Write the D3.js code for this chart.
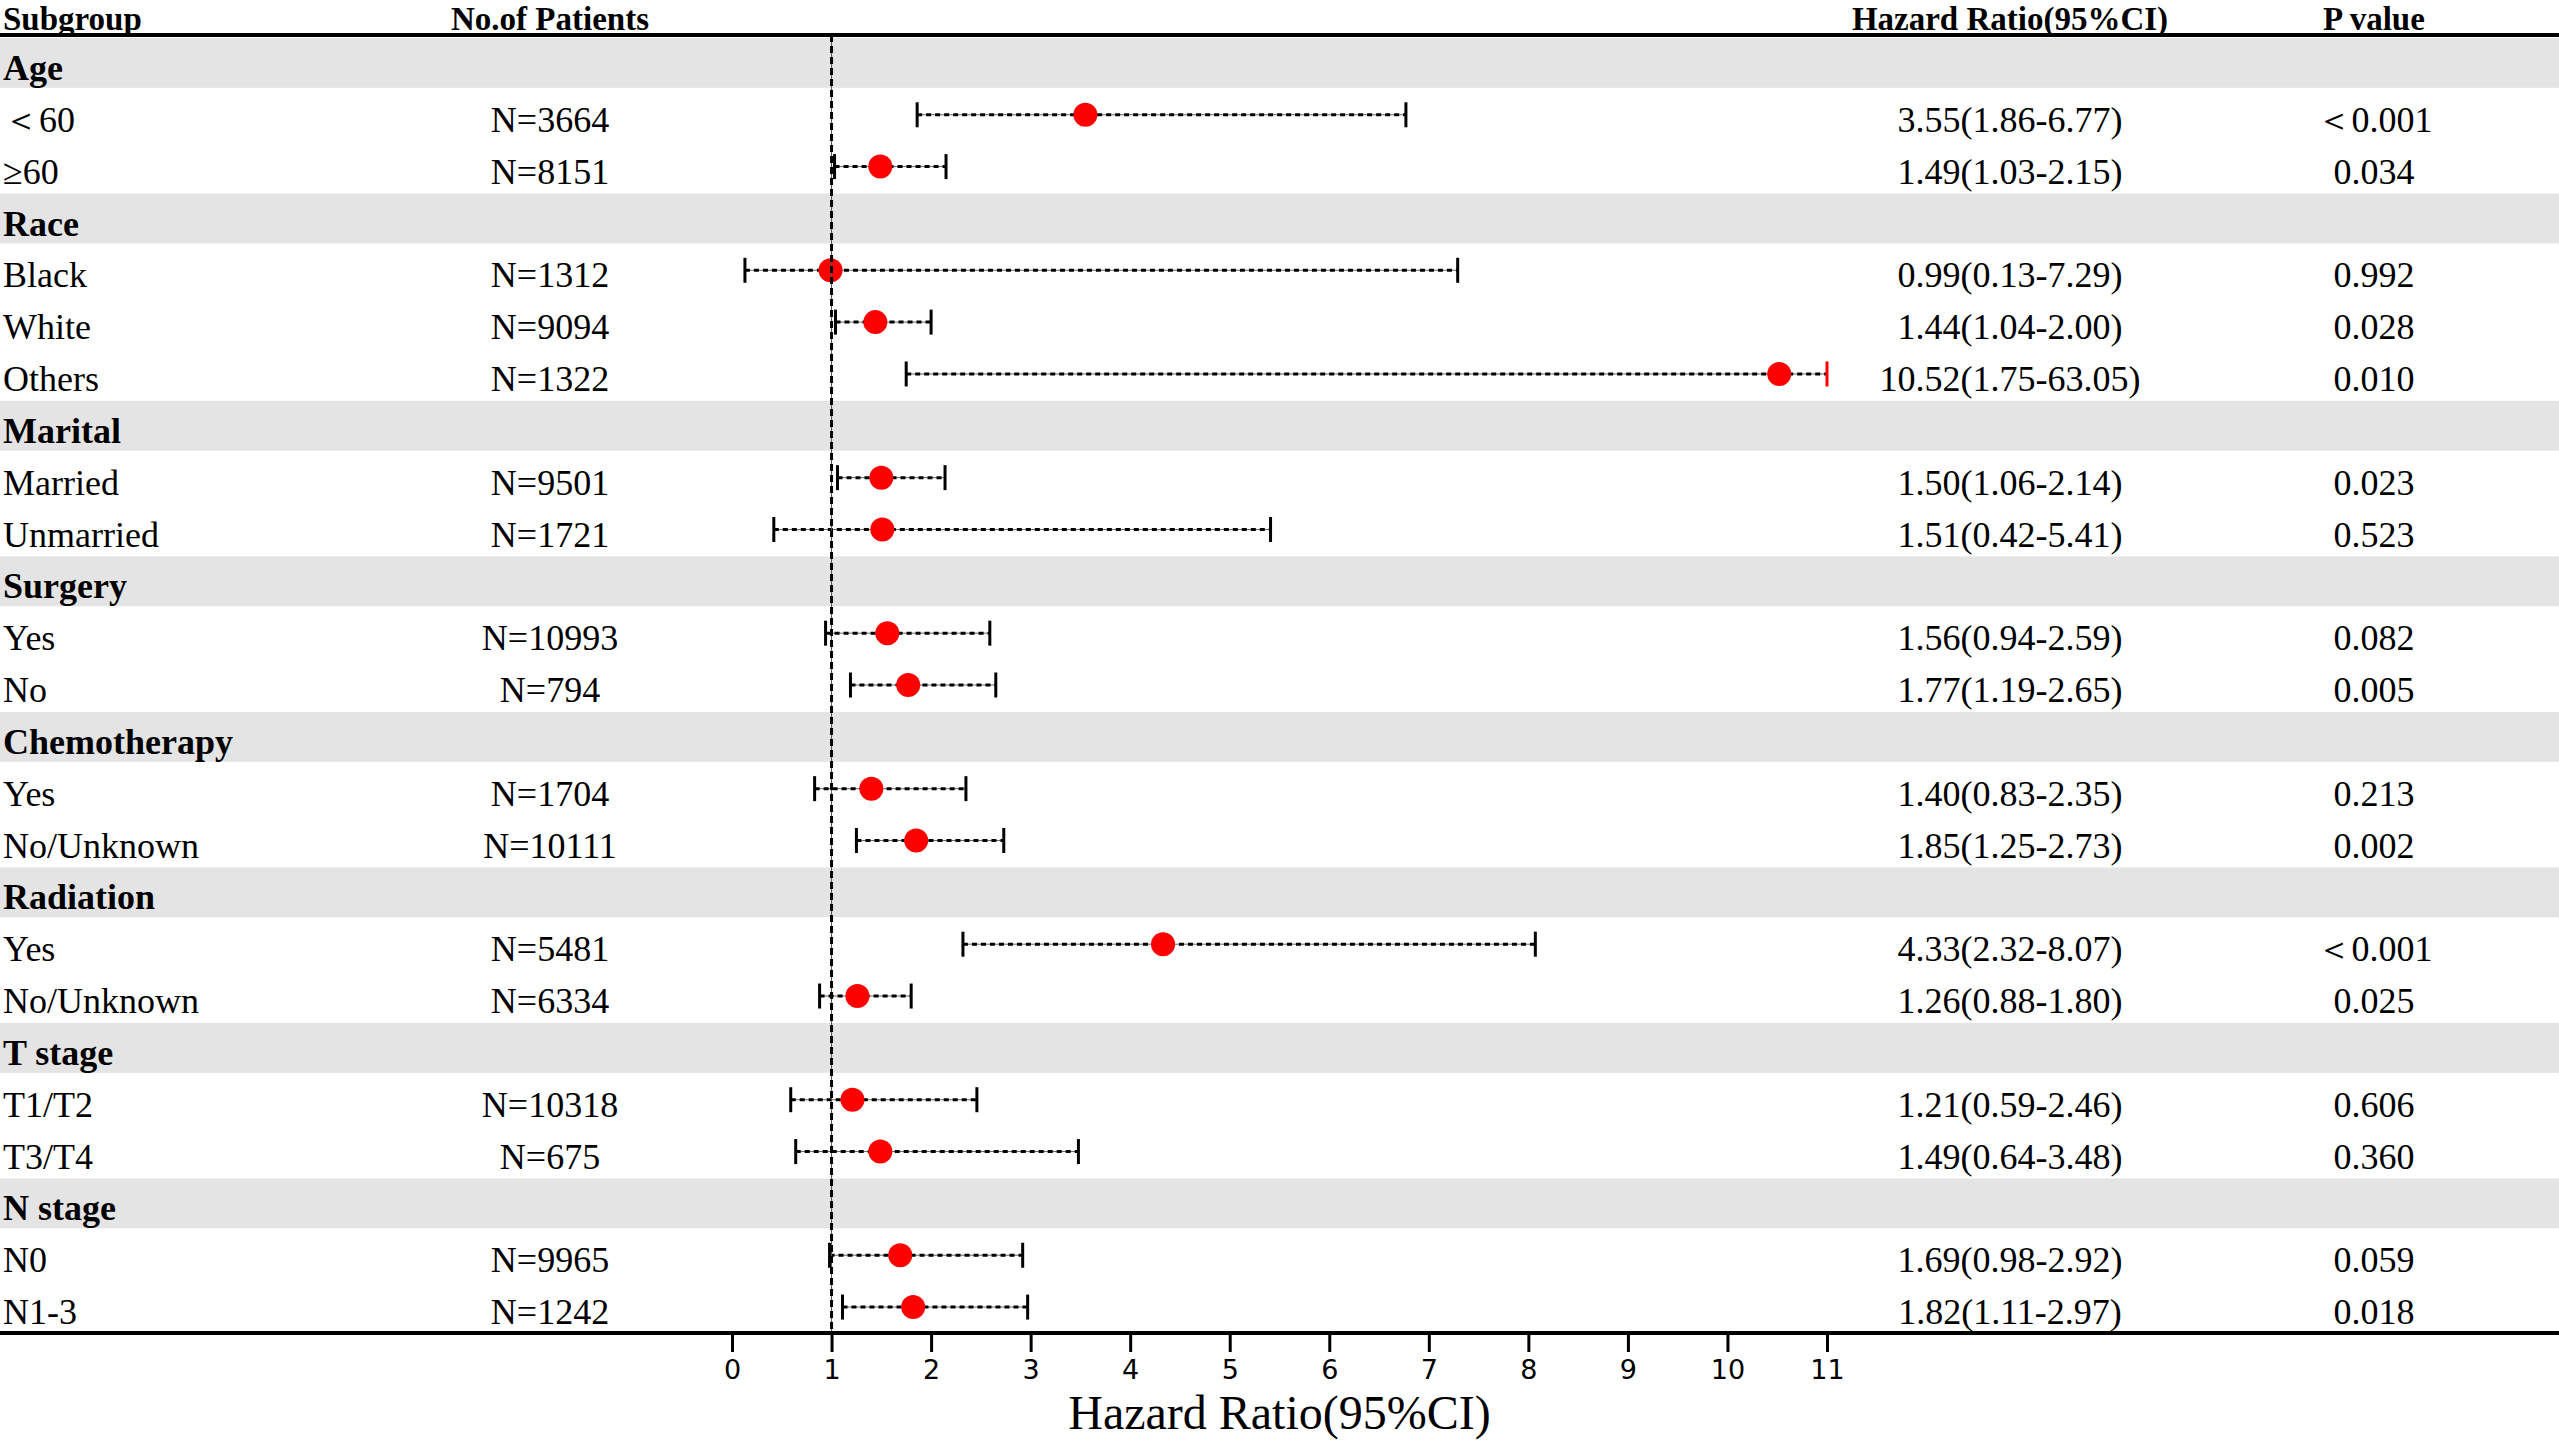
<!DOCTYPE html>
<html>
<head>
<meta charset="utf-8">
<script src="https://cdn.jsdelivr.net/npm/d3@7"></script>
<style>
  body { margin: 0; background: #fff; }
  text { font-family: "Liberation Serif", "Times New Roman", serif; fill: #000; }
</style>
</head>
<body>
<script>
let w = 2559;
let h = 1440;

// chart data
let groups = ["Age", "Race", "Marital", "Surgery", "Chemotherapy", "Radiation", "T stage", "N stage"];
let subgroups = ["＜60", "≥60", "Black", "White", "Others", "Married", "Unmarried", "Yes", "No",
  "Yes", "No/Unknown", "Yes", "No/Unknown", "T1/T2", "T3/T4", "N0", "N1-3"];
let groupOf = [0, 0, 1, 1, 1, 2, 2, 3, 3, 4, 4, 5, 5, 6, 6, 7, 7];
let patients = [3664, 8151, 1312, 9094, 1322, 9501, 1721, 10993, 794, 1704, 10111, 5481, 6334, 10318, 675, 9965, 1242];
let hr = [3.55, 1.49, 0.99, 1.44, 10.52, 1.50, 1.51, 1.56, 1.77, 1.40, 1.85, 4.33, 1.26, 1.21, 1.49, 1.69, 1.82];
let lower = [1.86, 1.03, 0.13, 1.04, 1.75, 1.06, 0.42, 0.94, 1.19, 0.83, 1.25, 2.32, 0.88, 0.59, 0.64, 0.98, 1.11];
let upper = [6.77, 2.15, 7.29, 2.00, 63.05, 2.14, 5.41, 2.59, 2.65, 2.35, 2.73, 8.07, 1.80, 2.46, 3.48, 2.92, 2.97];
let pValues = ["＜0.001", "0.034", "0.992", "0.028", "0.010", "0.023", "0.523", "0.082", "0.005",
  "0.213", "0.002", "＜0.001", "0.025", "0.606", "0.360", "0.059", "0.018"];
let xTicks = [0, 1, 2, 3, 4, 5, 6, 7, 8, 9, 10, 11];
let headers = ["Subgroup", "No.of Patients", "Hazard Ratio(95%CI)", "P value"];

// build the table rows: a group row followed by its subgroups
let rows = [];
groups.forEach(function(g, gi) {
  rows.push({ type: "group", label: g });
  subgroups.forEach(function(s, i) {
    if (groupOf[i] == gi) {
      rows.push({ type: "item", label: s, n: patients[i], hr: hr[i], lo: lower[i], hi: upper[i], p: pValues[i] });
    }
  });
});

let colN = 550;
let colHR = 2010;
let colP = 2374;
let headerLine = 35;
let axisLine = 1333;

let xScale = d3.scaleLinear().domain([0, 11]).range([732, 1827]);
let yScale = d3.scaleBand().domain(d3.range(rows.length)).range([37, axisLine]);
let step = yScale.step();

let svg = d3.select("body")
  .append("svg")
  .attr("width", w)
  .attr("height", h);

// gray bands behind group rows
svg.selectAll("rect.band")
  .data(rows.map((d, i) => ({ d: d, i: i })).filter(r => r.d.type == "group"))
  .enter()
  .append("rect")
  .attr("class", "band")
  .attr("x", 0)
  .attr("y", r => yScale(r.i) + 1)
  .attr("width", w)
  .attr("height", step - 2)
  .style("fill", "#e4e4e4");

// column headers
let headerX = [3, colN, colHR, colP];
svg.selectAll("text.header")
  .data(headers)
  .enter()
  .append("text")
  .attr("class", "header")
  .attr("x", (d, i) => headerX[i])
  .attr("y", 30)
  .attr("text-anchor", (d, i) => i == 0 ? "start" : "middle")
  .style("font-size", "33px")
  .style("font-weight", "bold")
  .text(d => d);

svg.append("line")
  .attr("x1", 0).attr("x2", w)
  .attr("y1", headerLine).attr("y2", headerLine)
  .style("stroke", "#000")
  .style("stroke-width", 4);

// row text
let rowG = svg.selectAll("g.row")
  .data(rows)
  .enter()
  .append("g")
  .attr("class", "row")
  .attr("transform", (d, i) => "translate(0," + (yScale(i) + 43) + ")");

rowG.append("text")
  .attr("x", 3)
  .style("font-size", "36px")
  .style("font-weight", d => d.type == "group" ? "bold" : "normal")
  .text(d => d.label);

let items = rowG.filter(d => d.type == "item");
items.append("text")
  .attr("x", colN)
  .attr("text-anchor", "middle")
  .style("font-size", "36px")
  .text(d => "N=" + d.n);
items.append("text")
  .attr("x", colHR)
  .attr("text-anchor", "middle")
  .style("font-size", "36px")
  .text(d => d.hr.toFixed(2) + "(" + d.lo.toFixed(2) + "-" + d.hi.toFixed(2) + ")");
items.append("text")
  .attr("x", colP)
  .attr("text-anchor", "middle")
  .style("font-size", "36px")
  .text(d => d.p);

// confidence intervals
let xMax = xScale.domain()[1];
let ciG = svg.selectAll("g.ci")
  .data(rows.map((d, i) => ({ d: d, i: i })).filter(r => r.d.type == "item"))
  .enter()
  .append("g")
  .attr("class", "ci")
  .attr("transform", r => "translate(0," + (yScale(r.i) + step / 2) + ")");

ciG.append("line")
  .attr("x1", r => xScale(r.d.lo))
  .attr("x2", r => xScale(Math.min(r.d.hi, xMax)))
  .style("stroke", "#666")
  .style("stroke-width", 1);
ciG.append("line")
  .attr("x1", r => xScale(r.d.lo))
  .attr("x2", r => xScale(Math.min(r.d.hi, xMax)))
  .style("stroke", "#000")
  .style("stroke-width", 3)
  .style("stroke-dasharray", "5,4");
ciG.append("line")
  .attr("x1", r => xScale(r.d.lo))
  .attr("x2", r => xScale(r.d.lo))
  .attr("y1", -12.5).attr("y2", 12.5)
  .style("stroke", "#000")
  .style("stroke-width", 3);
ciG.append("line")
  .attr("x1", r => xScale(Math.min(r.d.hi, xMax)))
  .attr("x2", r => xScale(Math.min(r.d.hi, xMax)))
  .attr("y1", -12.5).attr("y2", 12.5)
  .style("stroke", r => r.d.hi > xMax ? "#ff0000" : "#000")
  .style("stroke-width", 3);
ciG.append("circle")
  .attr("cx", r => xScale(r.d.hr))
  .attr("r", 12)
  .style("fill", "#ff0000");

// reference line at HR = 1
svg.append("line")
  .attr("x1", xScale(1)).attr("x2", xScale(1))
  .attr("y1", headerLine).attr("y2", axisLine)
  .style("stroke", "#555")
  .style("stroke-width", 1);
svg.append("line")
  .attr("x1", xScale(1)).attr("x2", xScale(1))
  .attr("y1", headerLine).attr("y2", axisLine)
  .style("stroke", "#000")
  .style("stroke-width", 3)
  .style("stroke-dasharray", "7,4");

// bottom axis
svg.append("line")
  .attr("x1", 0).attr("x2", w)
  .attr("y1", axisLine).attr("y2", axisLine)
  .style("stroke", "#000")
  .style("stroke-width", 4);

let xAxis = d3.axisBottom(xScale)
  .tickValues(xTicks)
  .tickFormat(d3.format("d"))
  .tickSize(19)
  .tickPadding(8);

let axisG = svg.append("g")
  .attr("id", "x-axis")
  .attr("transform", "translate(0," + axisLine + ")")
  .call(xAxis);
axisG.select(".domain").remove();
axisG.selectAll(".tick line")
  .style("stroke", "#000")
  .style("stroke-width", 3);
axisG.selectAll(".tick text")
  .style("font-family", "'DejaVu Sans', sans-serif")
  .style("font-size", "27px")
  .style("fill", "#000");

svg.append("text")
  .attr("x", (xScale(0) + xScale(11)) / 2)
  .attr("y", 1429)
  .attr("text-anchor", "middle")
  .style("font-size", "48px")
  .text("Hazard Ratio(95%CI)");
</script>
</body>
</html>
